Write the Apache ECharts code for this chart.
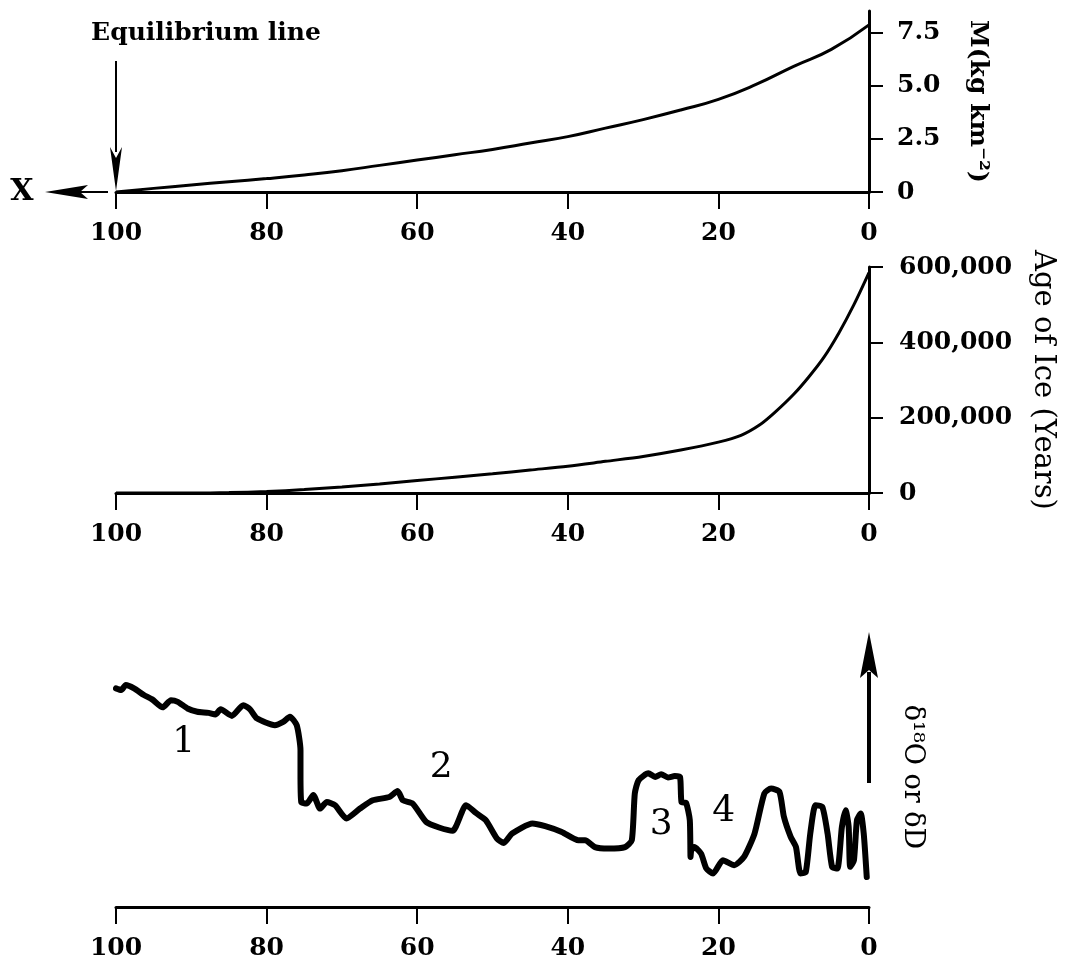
<!DOCTYPE html>
<html><head><meta charset="utf-8">
<script src="https://cdn.jsdelivr.net/npm/echarts@6/dist/echarts.min.js"></script>
<style>html,body{margin:0;padding:0;background:#fff}#c{width:1074px;height:965px}</style>
</head><body><div id="c"></div>
<script>
// ---- data ----
const xTickValues = [100, 80, 60, 40, 20, 0];

const massX = [100, 95, 90, 85, 80, 75, 70, 65, 60, 55, 50, 45, 40, 35, 30, 25, 20, 15, 10, 5, 0];
const massY = [0, 0.17, 0.33, 0.48, 0.63, 0.8, 1.0, 1.25, 1.5, 1.75, 2.0, 2.3, 2.6, 3.0, 3.4, 3.85, 4.35, 5.05, 5.9, 6.7, 7.85];
const massTicks = [0, 2.5, 5, 7.5];
const massTickLabels = ['0', '2.5', '5.0', '7.5'];

const ageX = [100, 90, 85, 80, 75, 70, 65, 60, 55, 50, 45, 40, 35, 30, 25, 20, 17, 14.5, 12.5, 10, 8, 6, 4, 2, 0];
const ageY = [0, 0, 1000, 4000, 9000, 16000, 24000, 33000, 42000, 51000, 61000, 71000, 84000, 97000, 114000, 135000, 153000, 181000, 214000, 262000, 308000, 360000, 425000, 500000, 585000];
const ageTicks = [0, 200000, 400000, 600000];
const ageTickLabels = ['0', '200,000', '400,000', '600,000'];

const isoX = [100, 99.3, 98.7, 97.6, 96.3, 95.2, 93.8, 92.7, 91.8, 90.5,
  89.2, 87.7, 86.8, 86.1, 84.6, 83.1, 82.2, 81.3, 78.9, 77.8,
  76.9, 76.0, 75.5, 75.5, 75.4, 74.7, 73.8, 72.9, 72.0, 70.9,
  69.4, 67.6, 65.9, 63.7, 62.6, 61.9, 60.6, 58.8, 57.1, 55.3,
  53.5, 52.2, 50.9, 49.4, 48.5, 47.4, 44.7, 43.0, 40.8, 38.6,
  37.7, 36.4, 34.6, 32.4, 31.5, 31.1, 30.6, 29.3, 28.4, 27.6,
  26.7, 25.8, 25.1, 24.9, 24.3, 23.8, 23.7, 23.6, 23.2, 22.3,
  21.6, 20.7, 19.4, 17.9, 16.6, 15.2, 13.9, 13.0, 11.9, 11.3,
  10.4, 9.7, 9.1, 8.4, 7.8, 7.1, 6.2, 5.5, 4.9, 4.2,
  3.6, 3.1, 2.7, 2.5, 2.0, 1.6, 1.1, 0.7, 0.3];
const isoY = [79.5, 78.9, 80.7, 79.5, 77.1, 75.5, 72.6, 75.2, 74.6, 72.2,
  71.0, 70.6, 70.0, 71.9, 69.5, 73.4, 71.9, 68.6, 66.1, 67.3,
  69.2, 66.1, 57.0, 48.6, 38.2, 37.6, 40.7, 35.8, 38.2, 37.0,
  32.2, 35.8, 38.8, 40.0, 42.2, 38.8, 37.6, 30.9, 28.9, 27.7,
  37.0, 34.2, 31.6, 24.9, 23.3, 26.7, 30.4, 29.4, 27.3, 24.3,
  24.3, 21.8, 21.3, 21.8, 24.3, 41.3, 46.1, 48.6, 47.3, 48.3,
  47.1, 47.6, 47.3, 38.2, 37.9, 31.6, 18.2, 20.6, 21.8, 19.4,
  14.0, 12.2, 17.0, 15.2, 18.2, 26.7, 41.3, 43.1, 41.9, 32.8,
  25.5, 21.8, 12.2, 12.7, 26.7, 37.0, 36.4, 26.7, 14.6, 14.0,
  29.1, 35.2, 29.1, 14.6, 17.0, 31.6, 34.0, 26.7, 10.9];

const regionLabels = ['1', '2', '3', '4'];
const regionX = [91.0, 56.8, 27.6, 19.3];
const regionY = [59.6, 50.5, 29.8, 34.5];

const texts = {
  equilibrium: 'Equilibrium line',
  xName: 'X',
  massName: 'M(kg km\u207B\u00B2)',
  ageName: 'Age of Ice (Years)',
  isoName: '\u03B4\u00B9\u2078O or \u03B4D'
};

// ---- chart ----
const FONT = 'DejaVu Serif';
const zip = (a, b) => a.map((v, i) => [v, b[i]]);
const chart = echarts.init(document.getElementById('c'), null, {renderer: 'canvas'});

function xAx(gi) {
  return {
    type: 'value', gridIndex: gi, min: 0, max: 100, interval: 20, inverse: true, position: 'bottom',
    axisLine: {show: true, onZero: false, lineStyle: {color: '#000', width: 3}},
    axisTick: {show: true, inside: false, length: 17, lineStyle: {color: '#000', width: 2}},
    axisLabel: {color: '#000', fontFamily: FONT, fontWeight: 'bold', fontSize: 25, margin: 29,
      customValues: xTickValues},
    splitLine: {show: false}
  };
}
const yLabelStyle = {color: '#000', fontFamily: FONT, fontWeight: 'bold', fontSize: 25};

chart.setOption({
  animation: false,
  backgroundColor: '#fff',
  grid: [
    {left: 116, right: 205, top: 11, height: 181},
    {left: 116, right: 205, top: 267, height: 226},
    {left: 116, right: 205, top: 632, height: 275}
  ],
  xAxis: [xAx(0), xAx(1), xAx(2)],
  yAxis: [
    {type: 'value', gridIndex: 0, position: 'right', min: 0, max: 8.5,
      axisLine: {show: true, lineStyle: {color: '#000', width: 3}},
      axisTick: {show: true, length: 14, customValues: massTicks, lineStyle: {color: '#000', width: 2}},
      axisLabel: Object.assign({margin: 28, customValues: massTicks,
        formatter: v => { const i = massTicks.indexOf(v); return i < 0 ? '' : massTickLabels[i]; }}, yLabelStyle),
      splitLine: {show: false}},
    {type: 'value', gridIndex: 1, position: 'right', min: 0, max: 600000, interval: 200000,
      axisLine: {show: true, lineStyle: {color: '#000', width: 3}},
      axisTick: {show: true, length: 14, lineStyle: {color: '#000', width: 2}},
      axisLabel: Object.assign({margin: 30,
        formatter: v => { const i = ageTicks.indexOf(v); return i < 0 ? '' : ageTickLabels[i]; }}, yLabelStyle),
      splitLine: {show: false}},
    {type: 'value', gridIndex: 2, min: 0, max: 100, show: false, splitLine: {show: false}}
  ],
  series: [
    {type: 'line', xAxisIndex: 0, yAxisIndex: 0, data: zip(massX, massY), showSymbol: false, smooth: true,
      lineStyle: {color: '#000', width: 3}},
    {type: 'line', xAxisIndex: 1, yAxisIndex: 1, data: zip(ageX, ageY), showSymbol: false, smooth: 0.3,
      lineStyle: {color: '#000', width: 3}},
    {type: 'line', xAxisIndex: 2, yAxisIndex: 2, data: zip(isoX, isoY), showSymbol: false, smooth: 0.2,
      lineStyle: {color: '#000', width: 6, cap: 'round', join: 'round'}}
  ]
});

// ---- annotations placed via axis conversion ----
const p0 = chart.convertToPixel({xAxisIndex: 0, yAxisIndex: 0}, [100, 0]);
const pR0 = chart.convertToPixel({xAxisIndex: 0, yAxisIndex: 0}, [0, 4.25]);
const pR1 = chart.convertToPixel({xAxisIndex: 1, yAxisIndex: 1}, [0, 300000]);
const pArrow = chart.convertToPixel({xAxisIndex: 2, yAxisIndex: 2}, [0, 100]);

const g = [];
// equilibrium arrow
g.push({type: 'line', shape: {x1: p0[0], y1: p0[1] - 131, x2: p0[0], y2: p0[1] - 40}, style: {stroke: '#000', lineWidth: 2}});
g.push({type: 'polygon', shape: {points: [[p0[0] - 6, p0[1] - 45], [p0[0], p0[1] - 34], [p0[0] + 6, p0[1] - 45], [p0[0], p0[1] - 1]]}, style: {fill: '#000'}});
g.push({type: 'text', x: p0[0] + 90, y: p0[1] - 159, style: {text: texts.equilibrium, font: 'bold 25px "DejaVu Serif"', fill: '#000', align: 'center', verticalAlign: 'middle'}});
// X arrow
g.push({type: 'line', shape: {x1: p0[0] - 8, y1: p0[1], x2: p0[0] - 40, y2: p0[1]}, style: {stroke: '#000', lineWidth: 2}});
g.push({type: 'polygon', shape: {points: [[p0[0] - 71, p0[1]], [p0[0] - 28, p0[1] - 7], [p0[0] - 36, p0[1]], [p0[0] - 28, p0[1] + 7]]}, style: {fill: '#000'}});
g.push({type: 'text', x: p0[0] - 94, y: p0[1], style: {text: texts.xName, font: 'bold 30px "DejaVu Serif"', fill: '#000', align: 'center', verticalAlign: 'middle'}});
// axis names
g.push({type: 'text', x: pR0[0] + 108, y: pR0[1], rotation: -Math.PI / 2, style: {text: texts.massName, font: 'bold 25px "DejaVu Serif"', fill: '#000', align: 'center', verticalAlign: 'middle'}});
g.push({type: 'text', x: pR1[0] + 174, y: pR1[1], rotation: -Math.PI / 2, style: {text: texts.ageName, font: '29px "DejaVu Serif"', fill: '#000', align: 'center', verticalAlign: 'middle'}});
// delta arrow
g.push({type: 'line', shape: {x1: pArrow[0], y1: pArrow[1] + 151, x2: pArrow[0], y2: pArrow[1] + 40}, style: {stroke: '#000', lineWidth: 4}});
g.push({type: 'polygon', shape: {points: [[pArrow[0], pArrow[1]], [pArrow[0] - 9, pArrow[1] + 46], [pArrow[0], pArrow[1] + 38], [pArrow[0] + 9, pArrow[1] + 46]]}, style: {fill: '#000'}});
g.push({type: 'text', x: pArrow[0] + 43, y: pArrow[1] + 145, rotation: -Math.PI / 2, style: {text: texts.isoName, font: '27px "DejaVu Serif"', fill: '#000', align: 'center', verticalAlign: 'middle'}});
// region labels
regionLabels.forEach((t, i) => {
  const p = chart.convertToPixel({xAxisIndex: 2, yAxisIndex: 2}, [regionX[i], regionY[i]]);
  g.push({type: 'text', x: p[0], y: p[1], style: {text: t, font: '36px "DejaVu Serif"', fill: '#000', align: 'center', verticalAlign: 'middle'}});
});
chart.setOption({graphic: g});
</script>
</body></html>
